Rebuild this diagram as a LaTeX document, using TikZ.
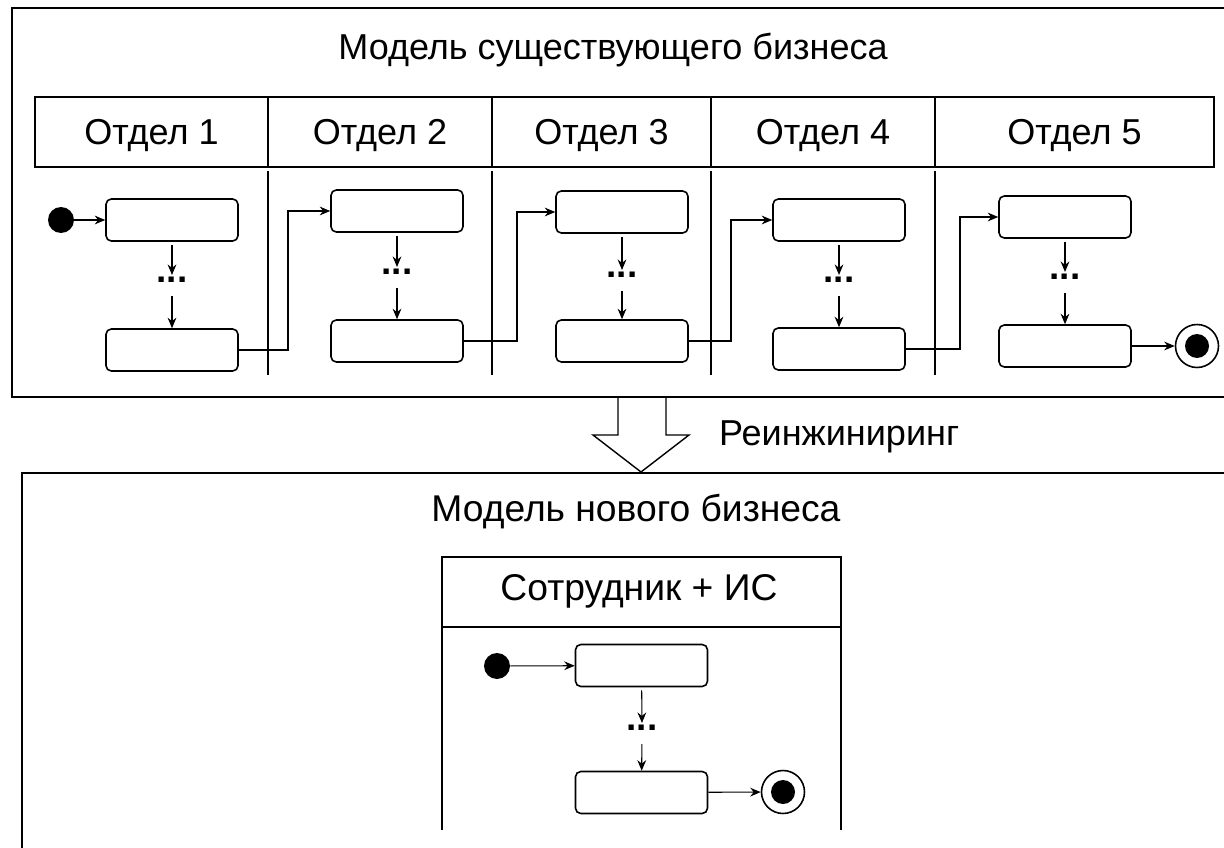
\documentclass[tikz,border=0pt]{standalone}
\usepackage{fontspec}
\setmainfont{Liberation Sans}
\usetikzlibrary{arrows.meta,calc,positioning}

\begin{document}
\begin{tikzpicture}[x=0.02cm,y=-0.02cm,
		font=\fontsize{20.5}{24}\selectfont,
		my frame/.style={line width=1.1pt},
		my lane/.style={line width=0.6pt},
		my act/.style={draw,line width=0.9pt,rounded corners=3pt,
				minimum width=2.64cm,minimum height=0.84cm,inner sep=0pt},
		my start/.style={circle,fill=black,inner sep=0pt,minimum size=0.52cm},
		my end/.style={circle,draw,line width=0.9pt,inner sep=0pt,minimum size=0.86cm,
				path picture={\fill (path picture bounding box.center) circle (0.24cm);}},
		my dots/.style={font=\fontsize{21}{24}\selectfont\bfseries,inner sep=0pt,
				text height=0.11cm,text depth=0pt},
		my flow/.style={-{Stealth[length=6pt,width=5pt,inset=2pt]},line width=0.6pt},
	]
	\clip (0,0) rectangle (1224,848);
	%
	% existing business
	\draw[my frame] (1240,8) -- (12,8) -- (12,397) -- (1240,397);
	\node[anchor=base] (title1) at (613,60) {Модель существующего бизнеса};
	\foreach \l/\r/\dep in {35/268/1, 268/492/2, 492/711/3, 711/935/4, 935/1214/5} {
			\draw[my frame] (\l,97) rectangle (\r,167);
			\node[anchor=base] (h\dep) at ({(\l+\r)/2},145) {Отдел \dep};
		}
	\foreach \x in {268,492,711,935}
	\draw[my lane] (\x,171) -- (\x,375);
	%
	\foreach \i/\x/\yt/\yd/\yb in {1/172/220/280/350, 2/397/211/272/341, 3/622/212/275/341,
			4/839/220/280/349, 5/1065/217/277/346} {
			\node[my act] (t\i) at (\x,\yt) {};
			\node[my dots] (d\i) at (\x,\yd) {...};
			\node[my act] (b\i) at (\x,\yb) {};
			\draw[my flow,shorten <=1.7pt,shorten >=1.1pt] (t\i) -- (d\i);
			\draw[my flow,shorten <=7.4pt] (d\i) -- (b\i);
		}
	\node[my start] (s1) at (61,220) {};
	\node[my end] (e1) at (1197,346) {};
	\draw[my flow] (s1) -- (t1);
	\draw[my flow] (b5) -- (e1);
	%
	\foreach \i/\j/\xk in {1/2/288, 2/3/517, 3/4/731, 4/5/960} {
			\coordinate (k\i) at (\xk,0);
			\draw[my flow] (b\i.east) -- (b\i.east -| k\i) |- (t\j.west);
		}
	%
	% reengineering arrow
	\draw[line width=0.8pt] (618,397) -- (618,435) -- (593,435) -- (641,472)
	-- (689,435) -- (666,435) -- (666,397);
	\node[anchor=base west] (reeng) at (713,445) {Реинжиниринг};
	%
	% new business
	\begin{scope}[font=\fontsize{21.2}{24}\selectfont]
		\draw[my frame] (1240,473) -- (22,473) -- (22,860);
		\node[anchor=base] (title2) at (636,521) {Модель нового бизнеса};
		\draw[my frame] (442,557) rectangle (841,627);
		\draw[my frame] (442,627) -- (442,830);
		\draw[my frame] (841,627) -- (841,830);
		\node[anchor=base] (pool) at (639,600) {Сотрудник + ИС};
	\end{scope}
	%
	\node[my start] (s2) at (497,666) {};
	\node[my act] (t6) at (641.5,665.5) {};
	\node[my dots] (d6) at (642,728) {...};
	\node[my act] (b6) at (641.5,792.5) {};
	\node[my end] (e2) at (783,792) {};
	\draw[my flow] (s2) -- (t6);
	\draw[my flow,shorten <=1.7pt,shorten >=1.1pt] (t6) -- (d6);
	\draw[my flow,shorten <=7.4pt] (d6) -- (b6);
	\draw[my flow] (b6) -- (e2);
\end{tikzpicture}
\end{document}
